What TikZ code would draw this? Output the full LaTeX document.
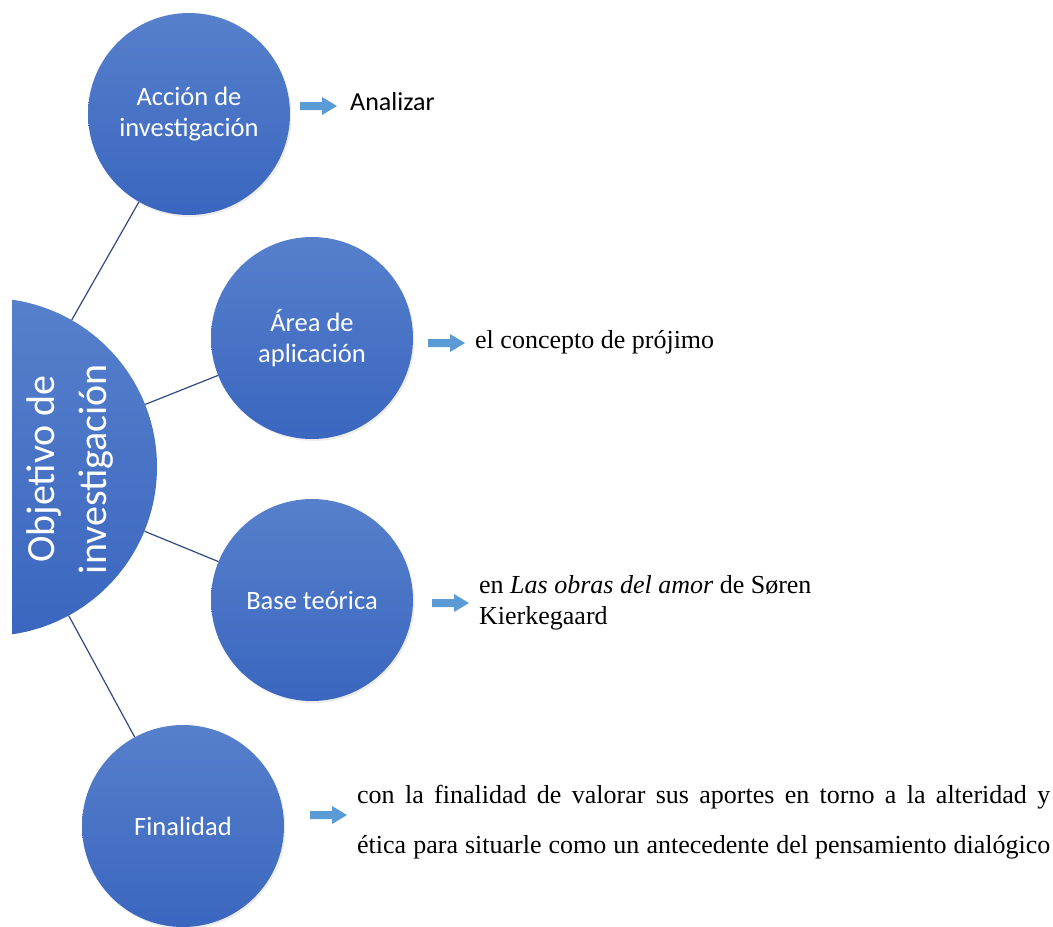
\documentclass[tikz,border=0pt]{standalone}
\usepackage{fontspec}
\setmainfont{Liberation Serif}
\newfontfamily\calibrifont{Carlito}
\usetikzlibrary{shadows}
\definecolor{circtop}{HTML}{5680CC}
\definecolor{circbot}{HTML}{3A66BF}
\definecolor{linkcol}{HTML}{2F4A7E}
\definecolor{arrowblue}{HTML}{5B9BD5}
\tikzset{
  bubble/.style={circle, minimum size=202pt, inner sep=0pt, top color=circtop, bottom color=circbot,
     text=white, font=\calibrifont\fontsize{26.5}{31}\selectfont, align=center,
     drop shadow={shadow xshift=1.5pt, shadow yshift=-2pt, opacity=0.15}},
  bigbubble/.style={circle, minimum size=338pt, inner sep=0pt, top color=circtop, bottom color=circbot},
  link/.style={draw=linkcol, line width=1.2pt},
  blockarrow/.pic={\fill[arrowblue] (0,-4) -- (22,-4) -- (22,-9) -- (37,0) -- (22,9) -- (22,4) -- (0,4) -- cycle;},
  sanslabel/.style={anchor=base west, inner sep=0pt, font=\calibrifont\fontsize{26}{31}\selectfont},
  seriflabel/.style={anchor=base west, inner sep=0pt, font=\fontsize{26}{30}\selectfont}
}
\begin{document}
\begin{tikzpicture}[x=1pt,y=-1pt]
\useasboundingbox (0,0) rectangle (1053,927);
% small circles
\node[bubble] (acc) at (189,114) {Acción de\\investigación};
\node[bubble] (area) at (312,338) {Área de\\aplicación};
\node[bubble] (base) at (312,600) {Base teórica};
\node[bubble] (fin) at (183,826) {Finalidad};
% big circle (clipped at left)
\begin{scope}
\clip (12,0) rectangle (1053,927);
\node[bigbubble] (obj) at (-12,467) {};
\end{scope}
\node[rotate=90, text=white, font=\calibrifont\fontsize{40}{52}\selectfont, align=center, inner sep=0pt] (objtext) at (70,469) {Objetivo de\\investigación};
% connectors
\draw[link] (obj) -- (acc);
\draw[link] (obj) -- (area);
\draw[link] (obj) -- (base);
\draw[link] (obj) -- (fin);
% arrows
\pic at (300,106) {blockarrow};
\pic at (428,343) {blockarrow};
\pic at (432,603) {blockarrow};
\pic at (310,815) {blockarrow};
% texts
\node[sanslabel] (t1) at (350,110) {Analizar};
\node[seriflabel] (t2) at (475,348) {el concepto de prójimo};
\node[seriflabel] (t3a) at (479,593) {en \textit{Las obras del amor} de Søren};
\node[seriflabel] (t3b) at (479,624) {Kierkegaard};
\node[seriflabel] (t4a) at (357,803) {\makebox[693pt][s]{con la finalidad de valorar sus aportes en torno a la alteridad y}};
\node[seriflabel] (t4b) at (357,853) {\makebox[693pt][s]{ética para situarle como un antecedente del pensamiento dialógico}};
\end{tikzpicture}
\end{document}
